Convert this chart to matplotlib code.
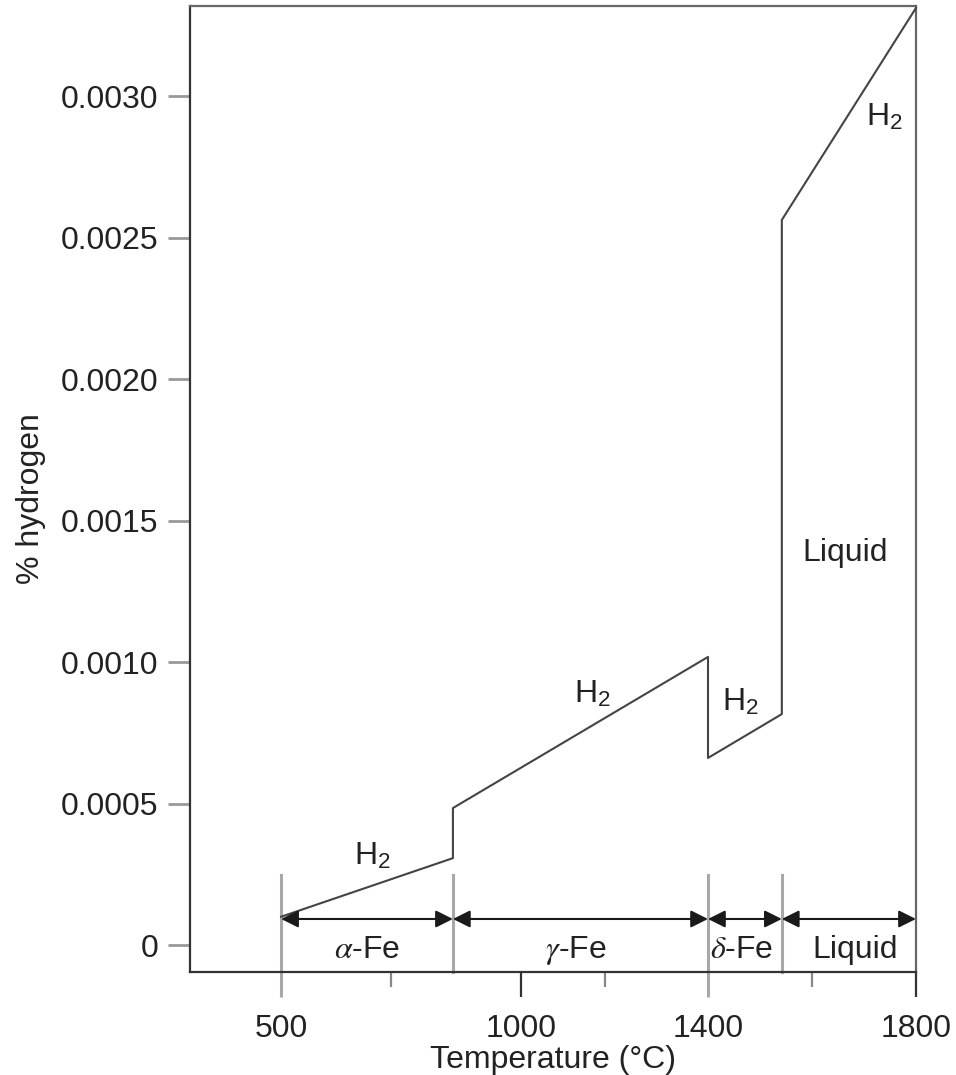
import numpy as np
import matplotlib
matplotlib.use('Agg')
import matplotlib.pyplot as plt
from matplotlib.ticker import FixedLocator, FixedFormatter

plt.rcParams['font.family'] = ['Liberation Sans', 'DejaVu Sans']
plt.rcParams['mathtext.fontset'] = 'custom'
plt.rcParams['mathtext.rm'] = 'Liberation Sans'
plt.rcParams['mathtext.it'] = 'STIXGeneral:italic'

# solubility curve (temperature in C, % hydrogen)
curve_t = [500, 858, 858, 1400, 1400, 1542, 1542, 1800]
curve_h = [0.00010, 0.000307, 0.000484, 0.001018, 0.000661, 0.000816, 0.002562, 0.003311]

# phase ranges
phase_bounds = [500, 858, 1400, 1542, 1800]
phase_names = [r'$\alpha$-Fe', r'$\gamma$-Fe', r'$\delta$-Fe', 'Liquid']
phase_label_t = [679, 1118, 1465, 1683]

# H2 labels
h2_t = [690, 1152, 1462, 1740]
h2_h = [0.000311, 0.000883, 0.000855, 0.002922]

x_major = [500, 1000, 1400, 1800]
x_minor = [730, 1180, 1600]
y_ticks = [0, 0.0005, 0.0010, 0.0015, 0.0020, 0.0025, 0.0030]
y_labels = ['0', '0.0005', '0.0010', '0.0015', '0.0020', '0.0025', '0.0030']

# the original temperature axis is not evenly spaced
axis_t = np.array([500, 1000, 1400, 1800], float)
axis_p = np.array([281, 521, 708, 916], float)


def fwd(t):
    t = np.asarray(t, float)
    shp = t.shape
    t = np.atleast_1d(t)
    out = np.interp(t, axis_t, axis_p)
    s0 = (axis_p[1] - axis_p[0]) / (axis_t[1] - axis_t[0])
    s1 = (axis_p[-1] - axis_p[-2]) / (axis_t[-1] - axis_t[-2])
    lo = t < axis_t[0]
    hi = t > axis_t[-1]
    out[lo] = axis_p[0] + (t[lo] - axis_t[0]) * s0
    out[hi] = axis_p[-1] + (t[hi] - axis_t[-1]) * s1
    return out.reshape(shp)


def inv(p):
    p = np.asarray(p, float)
    shp = p.shape
    p = np.atleast_1d(p)
    out = np.interp(p, axis_p, axis_t)
    s0 = (axis_t[1] - axis_t[0]) / (axis_p[1] - axis_p[0])
    s1 = (axis_t[-1] - axis_t[-2]) / (axis_p[-1] - axis_p[-2])
    lo = p < axis_p[0]
    hi = p > axis_p[-1]
    out[lo] = axis_t[0] + (p[lo] - axis_p[0]) * s0
    out[hi] = axis_t[-1] + (p[hi] - axis_p[-1]) * s1
    return out.reshape(shp)


fig = plt.figure(figsize=(9.56, 10.75), dpi=100)
ax = fig.add_axes([0.1987, 0.0958, 0.7594, 0.8986])
ax.set_xscale('function', functions=(fwd, inv))
ax.set_xlim(310, 1800)
ax.set_ylim(-0.0000954, 0.003318)

ax.plot(curve_t, curve_h, color='#444444', lw=1.5, clip_on=False, zorder=3)

arrow_y = 0.000092
phase_top = 0.000247
for xb in phase_bounds[:-1]:
    ax.plot([xb, xb], [phase_top, -0.0000954], color='#a8a8a8', lw=2.2, zorder=2, clip_on=False)
for i in range(len(phase_names)):
    ax.annotate('', xy=(phase_bounds[i + 1], arrow_y), xytext=(phase_bounds[i], arrow_y),
                arrowprops=dict(arrowstyle='<|-|>', color='#1a1a1a', lw=1.5,
                                mutation_scale=26, shrinkA=0, shrinkB=0), zorder=4)
    ax.text(phase_label_t[i], -0.0000177, phase_names[i], ha='center', va='center',
            fontsize=23, color='#222222')

for t, h in zip(h2_t, h2_h):
    ax.text(t, h, r'H$_2$', ha='center', va='center', fontsize=23, color='#222222')
ax.text(1663, 0.001385, 'Liquid', ha='center', va='center', fontsize=23, color='#222222')

for s in ['left', 'bottom']:
    ax.spines[s].set_color('#333333')
    ax.spines[s].set_linewidth(1.6)
for s in ['top', 'right']:
    ax.spines[s].set_color('#666666')
    ax.spines[s].set_linewidth(1.6)

ax.xaxis.set_major_locator(FixedLocator(x_major))
ax.xaxis.set_major_formatter(FixedFormatter([str(v) for v in x_major]))
ax.xaxis.set_minor_locator(FixedLocator(x_minor))
ax.tick_params(axis='x', which='major', direction='out', length=18, width=1.6,
               color='#333333', labelsize=23, labelcolor='#222222', pad=12)
ax.tick_params(axis='x', which='minor', direction='out', length=11, width=1.6, color='#888888')
for i, tk in enumerate(ax.xaxis.get_major_ticks()):
    if x_major[i] in (500, 1400):
        tk.tick1line.set_markeredgecolor('#a8a8a8')
        tk.tick1line.set_markeredgewidth(2.2)

ax.yaxis.set_major_locator(FixedLocator(y_ticks))
ax.yaxis.set_major_formatter(FixedFormatter(y_labels))
ax.tick_params(axis='y', direction='out', length=16, width=2, color='#999999',
               labelsize=23, labelcolor='#222222', pad=7)

ax.set_xlabel('Temperature (°C)', fontsize=23, color='#222222', labelpad=1)
ax.set_ylabel('% hydrogen', fontsize=23, color='#222222')
ax.yaxis.set_label_coords(-0.198, 0.49)

fig.savefig('out.png', dpi=100)
